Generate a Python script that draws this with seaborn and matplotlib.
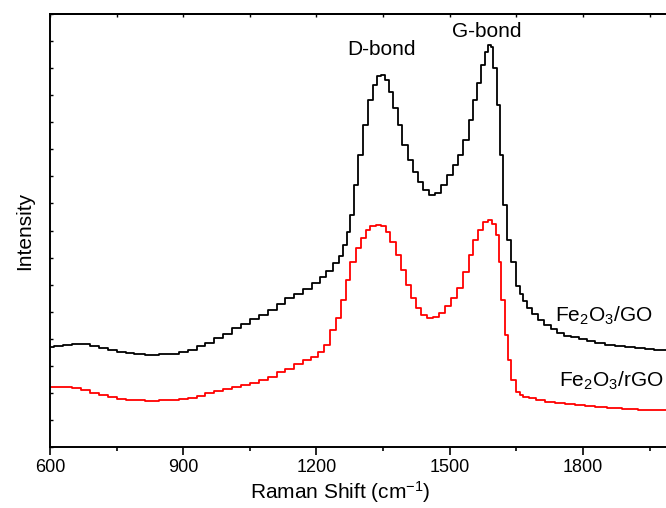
import numpy as np
import pandas as pd
import matplotlib
matplotlib.use("Agg")
import matplotlib.pyplot as plt
import seaborn as sns

# Raman shift (cm^-1) and intensity (a.u.)
go_x = [600, 620, 640, 660, 680, 700, 720, 740, 760, 780, 800, 830, 860, 880,
        900, 920, 940, 960, 980, 1000, 1020, 1040, 1060, 1080, 1100, 1120, 1140,
        1160, 1180, 1200, 1215, 1230, 1245, 1255, 1265, 1272, 1280, 1289, 1298,
        1310, 1321, 1332, 1341, 1350, 1359, 1368, 1377, 1388, 1399, 1411, 1422,
        1433, 1447, 1460, 1474, 1487, 1501, 1514, 1525, 1537, 1548, 1557, 1566,
        1575, 1582, 1589, 1595, 1602, 1609, 1616, 1625, 1634, 1643, 1654, 1662,
        1670, 1680, 1692, 1704, 1720, 1735, 1749, 1765, 1782, 1800, 1816, 1840,
        1861, 1885, 1906, 1930, 1951, 1970, 1987]
go_y = [3.70, 3.72, 3.76, 3.80, 3.79, 3.74, 3.65, 3.57, 3.52, 3.48, 3.45, 3.41,
        3.42, 3.44, 3.52, 3.60, 3.72, 3.86, 4.02, 4.18, 4.38, 4.56, 4.72, 4.88,
        5.05, 5.30, 5.50, 5.66, 5.85, 6.05, 6.30, 6.52, 6.80, 7.05, 7.45, 7.95,
        8.57, 9.68, 10.79, 11.90, 12.82, 13.38, 13.71, 13.75, 13.56, 13.12,
        12.53, 11.90, 11.16, 10.61, 10.16, 9.79, 9.50, 9.31, 9.39, 9.68, 10.05,
        10.42, 10.79, 11.35, 12.08, 12.82, 13.45, 14.12, 14.60, 14.86, 14.78,
        14.00, 12.64, 10.79, 8.94, 7.65, 6.84, 5.95, 5.65, 5.40, 5.15, 4.92,
        4.70, 4.50, 4.35, 4.21, 4.12, 4.05, 3.98, 3.93, 3.85, 3.78, 3.72, 3.68,
        3.64, 3.62, 3.60, 3.58]

rgo_x = [600, 620, 640, 660, 680, 700, 720, 740, 760, 780, 800, 830, 860, 880,
         900, 920, 940, 960, 980, 1000, 1020, 1040, 1060, 1080, 1100, 1120, 1140,
         1160, 1180, 1195, 1210, 1224, 1237, 1249, 1260, 1271, 1282, 1294, 1305,
         1316, 1327, 1339, 1350, 1361, 1372, 1384, 1395, 1406, 1418, 1429, 1442,
         1456, 1469, 1483, 1496, 1510, 1523, 1537, 1548, 1559, 1570, 1582, 1591,
         1600, 1607, 1613, 1620, 1627, 1634, 1643, 1654, 1662, 1670, 1685, 1704,
         1725, 1749, 1770, 1794, 1815, 1839, 1870, 1906, 1940, 1987]
rgo_y = [2.22, 2.23, 2.21, 2.17, 2.10, 2.01, 1.92, 1.84, 1.78, 1.74, 1.72, 1.70,
         1.72, 1.74, 1.78, 1.82, 1.90, 1.98, 2.06, 2.14, 2.22, 2.30, 2.38, 2.48,
         2.60, 2.76, 2.90, 3.05, 3.20, 3.32, 3.50, 3.77, 4.32, 4.77, 5.43, 6.17,
         6.84, 7.35, 7.72, 8.02, 8.17, 8.20, 8.17, 7.95, 7.58, 7.10, 6.54, 5.99,
         5.51, 5.14, 4.88, 4.77, 4.80, 4.95, 5.21, 5.51, 5.88, 6.47, 7.10, 7.65,
         8.02, 8.31, 8.39, 8.24, 7.83, 6.84, 5.43, 4.14, 3.22, 2.48, 2.03, 1.92,
         1.85, 1.80, 1.74, 1.68, 1.63, 1.59, 1.55, 1.52, 1.48, 1.44, 1.40, 1.38,
         1.37]

series_names = ["Fe$_2$O$_3$/GO", "Fe$_2$O$_3$/rGO"]
series_colors = ["black", "#ff0000"]
peak_labels = ["D-bond", "G-bond"]
x_ticks = [600, 900, 1200, 1500, 1800]

sns.set_style("ticks")
plt.rcParams["font.family"] = ["Liberation Sans", "DejaVu Sans"]
plt.rcParams["mathtext.default"] = "regular"
for k in ["text.color", "axes.labelcolor", "xtick.color", "ytick.color",
          "axes.edgecolor"]:
    plt.rcParams[k] = "black"

df = pd.concat([
    pd.DataFrame({"shift": go_x, "intensity": go_y, "sample": series_names[0]}),
    pd.DataFrame({"shift": rgo_x, "intensity": rgo_y, "sample": series_names[1]}),
])

fig = plt.figure(figsize=(6.66, 5.08), dpi=100)
ax = fig.add_axes([50 / 666, 61 / 508, 616 / 666, 433 / 508])

sns.lineplot(data=df, x="shift", y="intensity", hue="sample",
             palette=dict(zip(series_names, series_colors)),
             estimator=None, sort=False, drawstyle="steps-mid",
             linewidth=1.3, legend=False, ax=ax)

ax.set_xlim(600, 1987)
ax.set_ylim(0, 16)

ax.set_xticks(x_ticks)
ax.set_xticks(np.arange(750, 1987, 300), minor=True)
ax.tick_params(axis="x", which="major", direction="out", length=6, width=1.2,
               labelsize=13, pad=3)
ax.tick_params(axis="x", which="minor", direction="out", length=3, width=1.2)
ax.set_yticks(np.arange(0, 17, 1))
ax.set_yticklabels([])
ax.tick_params(axis="y", direction="in", length=2.5, width=1.0)

top = ax.secondary_xaxis("top")
top.set_xticks(np.arange(600, 1987, 150))
top.tick_params(direction="in", length=2.5, width=1.0, labeltop=False)
top.spines["top"].set_linewidth(1.4)

for s in ["left", "bottom", "top"]:
    ax.spines[s].set_linewidth(1.4)
ax.spines["right"].set_visible(False)

ax.set_xlabel("Raman Shift (cm$^{-1}$)", fontsize=15, labelpad=2)
ax.xaxis.set_label_coords((340 - 50) / 616, -0.075)
ax.set_ylabel("Intensity", fontsize=15, labelpad=8)

ax.text(1347, 14.7, peak_labels[0], fontsize=15, ha="center", va="center")
ax.text(1583, 15.37, peak_labels[1], fontsize=15, ha="center", va="center")
ax.text(1738, 4.85, series_names[0], fontsize=15, ha="left", va="center")
ax.text(1747, 2.45, series_names[1], fontsize=15, ha="left", va="center")

fig.savefig("out.png", dpi=100)
